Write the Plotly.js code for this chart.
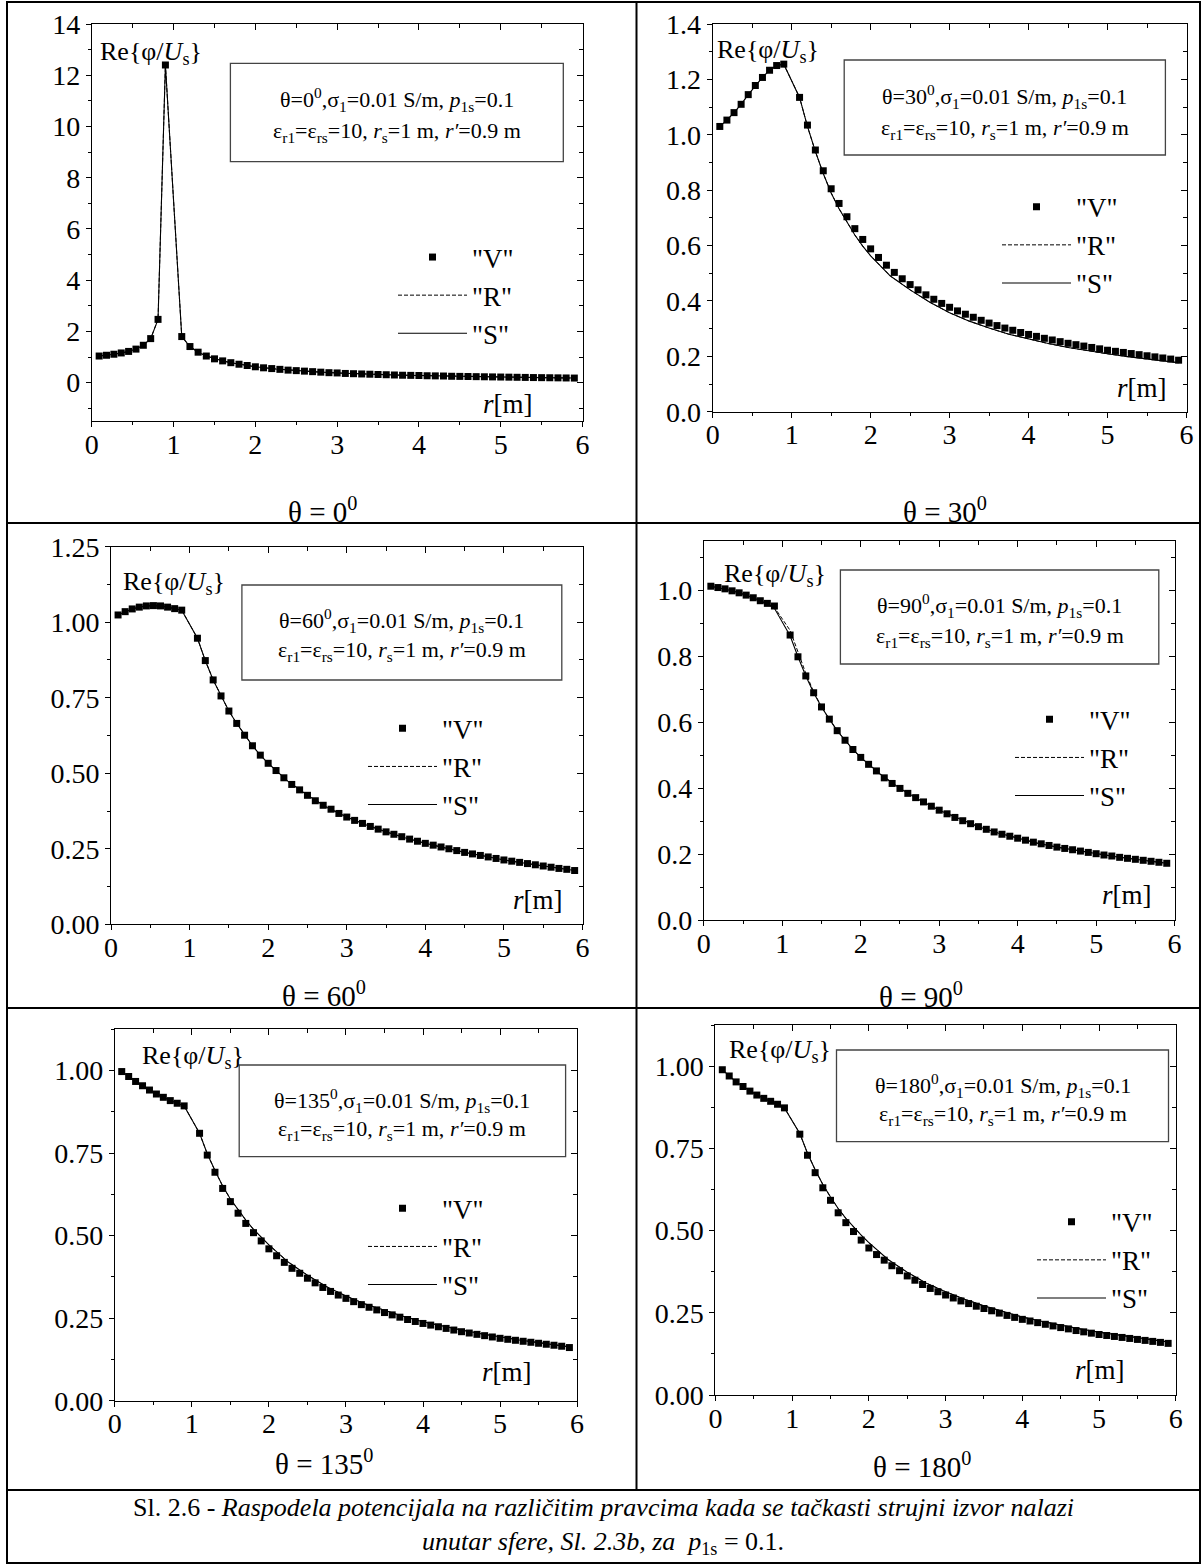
<!DOCTYPE html>
<html><head><meta charset="utf-8">
<script src="https://cdn.plot.ly/plotly-3.0.1.min.js"></script>
<style>html,body{margin:0;padding:0;background:#fff;} #chart{width:1203px;height:1566px;}</style>
</head><body><div id="chart"></div>
<script>
const W = 1203, H = 1566;
const FONT = 'Liberation Serif';

// r grid of the "V" points (inside the sphere: steps of 0.09 up to r'=0.9, outside: 0.1 steps)
const rV = [0.09,0.18,0.27,0.36,0.45,0.54,0.63,0.72,0.81,0.9,
  1.1,1.2,1.3,1.4,1.5,1.6,1.7,1.8,1.9,2.0,
  2.1,2.2,2.3,2.4,2.5,2.6,2.7,2.8,2.9,3.0,
  3.1,3.2,3.3,3.4,3.5,3.6,3.7,3.8,3.9,4.0,
  4.1,4.2,4.3,4.4,4.5,4.6,4.7,4.8,4.9,5.0,
  5.1,5.2,5.3,5.4,5.5,5.6,5.7,5.8,5.9];
// r grid of the "R" and "S" curves
const rL = [0.09,0.18,0.27,0.36,0.45,0.54,0.63,0.72,0.81,0.9,
  1.1,1.2,1.3,1.4,1.5,1.6,1.7,1.8,1.9,2.0,
  2.25,2.5,2.75,3.0,3.25,3.5,3.75,4.0,4.25,4.5,4.75,5.0,5.25,5.5,5.75,5.9];

// theta = 0
const V_0 = [1.04,1.07,1.11,1.16,1.22,1.31,1.46,1.72,2.47,12.4,
  1.80,1.41,1.19,1.04,0.93,0.85,0.78,0.72,0.67,0.62,
  0.58,0.55,0.52,0.49,0.47,0.45,0.43,0.41,0.39,0.38,
  0.36,0.35,0.34,0.33,0.32,0.31,0.30,0.29,0.285,0.28,
  0.27,0.265,0.26,0.25,0.245,0.24,0.235,0.23,0.225,0.22,
  0.215,0.21,0.205,0.20,0.196,0.192,0.188,0.184,0.18];
const S_0 = [1.04,1.07,1.11,1.16,1.22,1.31,1.46,1.72,2.47,12.4,
  1.80,1.41,1.19,1.04,0.93,0.85,0.78,0.72,0.67,0.62,
  0.535,0.47,0.42,0.38,0.345,0.32,0.295,0.28,0.262,0.245,0.232,0.22,0.207,0.196,0.186,0.18];
const R_0 = [1.04,1.07,1.11,1.16,1.22,1.31,1.46,1.72,2.47,12.4,
  1.80,1.41,1.19,1.04,0.93,0.85,0.78,0.72,0.67,0.62,
  0.535,0.47,0.42,0.38,0.345,0.32,0.295,0.28,0.262,0.245,0.232,0.22,0.207,0.196,0.186,0.18];

// theta = 30
const V_30 = [1.03,1.053,1.08,1.11,1.145,1.178,1.207,1.233,1.25,1.255,
  1.135,1.035,0.945,0.87,0.805,0.752,0.704,0.661,0.622,0.588,
  0.557,0.529,0.503,0.480,0.459,0.440,0.422,0.406,0.391,0.377,
  0.364,0.352,0.341,0.330,0.320,0.311,0.302,0.294,0.286,0.279,
  0.272,0.265,0.259,0.253,0.247,0.242,0.237,0.232,0.227,0.222,
  0.218,0.214,0.210,0.206,0.202,0.198,0.194,0.190,0.186];
const S_30 = [1.03,1.053,1.08,1.11,1.145,1.178,1.207,1.233,1.25,1.255,
  1.135,1.03,0.94,0.86,0.79,0.733,0.683,0.638,0.598,0.563,
  0.49,0.44,0.395,0.357,0.327,0.302,0.28,0.262,0.246,0.232,0.22,0.209,0.199,0.19,0.182,0.177];
const R_30 = [1.03,1.053,1.08,1.11,1.145,1.178,1.207,1.233,1.25,1.255,
  1.135,1.03,0.94,0.86,0.79,0.733,0.683,0.638,0.598,0.563,
  0.49,0.44,0.395,0.357,0.327,0.302,0.28,0.262,0.246,0.232,0.22,0.209,0.199,0.19,0.182,0.177];

// theta = 60
const V_60 = [1.024,1.035,1.044,1.05,1.054,1.055,1.054,1.05,1.045,1.04,
  0.947,0.873,0.809,0.756,0.706,0.665,0.626,0.591,0.560,0.533,
  0.509,0.485,0.463,0.445,0.427,0.409,0.394,0.381,0.367,0.355,
  0.344,0.334,0.324,0.315,0.306,0.298,0.290,0.282,0.275,0.268,
  0.262,0.256,0.250,0.244,0.238,0.233,0.228,0.223,0.218,0.213,
  0.209,0.205,0.201,0.197,0.193,0.189,0.185,0.182,0.178];
const S_60 = [1.024,1.035,1.044,1.05,1.054,1.055,1.054,1.05,1.045,1.04,
  0.947,0.873,0.809,0.756,0.706,0.665,0.626,0.591,0.560,0.533,
  0.474,0.427,0.387,0.355,0.329,0.306,0.286,0.268,0.253,0.238,0.226,0.213,0.203,0.193,0.184,0.178];
const R_60 = [1.024,1.035,1.044,1.05,1.054,1.055,1.054,1.05,1.045,1.04,
  0.947,0.873,0.809,0.756,0.706,0.665,0.626,0.591,0.560,0.533,
  0.474,0.427,0.387,0.355,0.329,0.306,0.286,0.268,0.253,0.238,0.226,0.213,0.203,0.193,0.184,0.178];

// theta = 90
const V_90 = [1.012,1.008,1.004,0.998,0.992,0.985,0.977,0.968,0.960,0.952,
  0.864,0.798,0.740,0.689,0.646,0.609,0.574,0.545,0.517,0.493,
  0.472,0.452,0.431,0.414,0.399,0.384,0.371,0.358,0.345,0.333,
  0.322,0.311,0.301,0.292,0.283,0.275,0.267,0.260,0.254,0.248,
  0.242,0.236,0.231,0.226,0.221,0.217,0.213,0.209,0.205,0.201,
  0.197,0.194,0.190,0.187,0.184,0.181,0.178,0.175,0.172];
const S_90 = [1.012,1.008,1.004,0.998,0.992,0.985,0.977,0.968,0.958,0.945,
  0.862,0.798,0.740,0.689,0.646,0.609,0.574,0.545,0.517,0.493,
  0.442,0.399,0.364,0.333,0.307,0.283,0.264,0.248,0.233,0.221,0.211,0.201,0.192,0.184,0.177,0.172];
const R_90 = [1.012,1.008,1.004,0.998,0.992,0.985,0.977,0.968,0.958,0.948,
  0.878,0.810,0.748,0.692,0.646,0.609,0.574,0.545,0.517,0.493,
  0.442,0.399,0.364,0.333,0.307,0.283,0.264,0.248,0.233,0.221,0.211,0.201,0.192,0.184,0.177,0.172];

// theta = 135
const V_135 = [0.997,0.982,0.967,0.954,0.941,0.929,0.919,0.909,0.901,0.893,
  0.810,0.744,0.692,0.643,0.603,0.568,0.537,0.509,0.484,0.460,
  0.439,0.419,0.401,0.386,0.371,0.357,0.343,0.331,0.320,0.310,
  0.300,0.291,0.283,0.275,0.267,0.260,0.253,0.246,0.240,0.234,
  0.229,0.224,0.219,0.214,0.209,0.205,0.201,0.197,0.193,0.189,
  0.186,0.183,0.180,0.177,0.174,0.171,0.168,0.165,0.161];
const S_135 = [0.997,0.982,0.967,0.954,0.941,0.929,0.919,0.909,0.901,0.893,
  0.81,0.748,0.697,0.650,0.611,0.577,0.547,0.519,0.495,0.472,
  0.42,0.38,0.345,0.317,0.293,0.273,0.255,0.239,0.226,0.214,0.203,0.193,0.184,0.176,0.168,0.163];
const R_135 = [0.997,0.982,0.967,0.954,0.941,0.929,0.919,0.909,0.901,0.893,
  0.81,0.748,0.697,0.650,0.611,0.577,0.547,0.519,0.495,0.472,
  0.42,0.38,0.345,0.317,0.293,0.273,0.255,0.239,0.226,0.214,0.203,0.193,0.184,0.176,0.168,0.163];

// theta = 180
const V_180 = [0.989,0.970,0.952,0.938,0.924,0.912,0.902,0.893,0.884,0.873,
  0.793,0.729,0.676,0.630,0.592,0.554,0.524,0.497,0.471,0.447,
  0.427,0.410,0.393,0.378,0.362,0.349,0.336,0.324,0.314,0.304,
  0.295,0.286,0.278,0.270,0.263,0.256,0.249,0.242,0.236,0.230,
  0.225,0.220,0.215,0.210,0.205,0.201,0.196,0.192,0.188,0.184,
  0.181,0.178,0.175,0.172,0.169,0.166,0.163,0.160,0.157];
const S_180 = [0.989,0.970,0.952,0.938,0.924,0.912,0.902,0.893,0.884,0.873,
  0.795,0.735,0.685,0.640,0.602,0.567,0.537,0.510,0.486,0.463,
  0.412,0.373,0.340,0.314,0.291,0.271,0.253,0.237,0.224,0.212,0.201,0.191,0.182,0.174,0.166,0.161];
const R_180 = [0.989,0.970,0.952,0.938,0.924,0.912,0.902,0.893,0.884,0.873,
  0.795,0.735,0.685,0.640,0.602,0.567,0.537,0.510,0.486,0.463,
  0.412,0.373,0.340,0.314,0.291,0.271,0.253,0.237,0.224,0.212,0.201,0.191,0.182,0.174,0.166,0.161];

const thetaLabels = ['0','30','60','90','135','180'];
const seriesNames = ['"V"','"R"','"S"'];

// layout of the six panels (pixel geometry)
const panels = [
  {V:V_0,   R:R_0,   S:S_0,   px:[91.8,582.5],  py:[24,421.1],    yr:[-1.5,14],  dt:2,    mn:1,     fmt:'d',
   box:[230.4,563.3,63.3,161.7],   ln:[99.3,131.7],  re:[97.6,53],    rm:[481.4,404],  ti:[322.6,510],  lg:[393,256]},
  {V:V_30,  R:R_30,  S:S_30,  px:[712.7,1186.5],py:[24,411.7],    yr:[0,1.4],    dt:0.2,  mn:0.1,   fmt:'.1f',
   box:[844.2,1165.4,60,155],      ln:[96.7,129],    re:[715.4,51],   rm:[1115.4,388.3],ti:[945,510],   lg:[997,205.7]},
  {V:V_60,  R:R_60,  S:S_60,  px:[111,582.5],   py:[546.7,924.3], yr:[0,1.25],   dt:0.25, mn:0.125, fmt:'.2f',
   box:[241.9,561.8,585,680],      ln:[620.7,650.7], re:[120.5,583],  rm:[511,900],    ti:[324,994],    lg:[363,727.3]},
  {V:V_90,  R:R_90,  S:S_90,  px:[703.8,1174.6],py:[540.7,920],   yr:[0,1.15],   dt:0.2,  mn:0.1,   fmt:'.1f',
   box:[840.4,1158.8,570,664],     ln:[606,636.7],   re:[722.3,575],  rm:[1100,895],   ti:[921,995],    lg:[1010,718.3]},
  {V:V_135, R:R_135, S:S_135, px:[114.8,577.1], py:[1029.3,1400.7],yr:[0,1.125], dt:0.25, mn:0.125, fmt:'.2f',
   box:[239.2,565.6,1065,1156.7],  ln:[1100,1130],   re:[139.7,1057], rm:[480,1371.7], ti:[323.5,1462], lg:[363,1207.3]},
  {V:V_180, R:R_180, S:S_180, px:[715.4,1175.8],py:[1025,1395],   yr:[0,1.125],  dt:0.25, mn:0.125, fmt:'.2f',
   box:[836.5,1168.5,1050,1141.7], ln:[1085,1115],   re:[727,1051],   rm:[1073,1370],  ti:[922,1465],   lg:[1032,1220.7]}
];

const fx = p => p / W;
const fy = p => 1 - p / H;
const tfont = s => ({family: FONT, size: s, color: '#000'});

const data = [];
const layout = {
  width: W, height: H, margin: {l:0, r:0, t:0, b:0},
  paper_bgcolor: '#fff', plot_bgcolor: 'rgba(0,0,0,0)',
  font: tfont(26),
  showlegend: true, shapes: [], annotations: [], hovermode: false
};

panels.forEach((p, i) => {
  const n = i + 1, m = n + 6;
  const xa = n === 1 ? 'x' : 'x' + n, ya = n === 1 ? 'y' : 'y' + n;
  const xo = 'x' + m, yo = 'y' + m;
  const lgName = n === 1 ? 'legend' : 'legend' + n;

  data.push({type:'scatter', mode:'markers', x:rV, y:p.V, xaxis:xa, yaxis:ya, name:seriesNames[0], legend:lgName,
    marker:{symbol:'square', size:7, color:'#000'}, cliponaxis:false});
  data.push({type:'scatter', mode:'lines', x:rL, y:p.R, xaxis:xa, yaxis:ya, name:seriesNames[1], legend:lgName,
    line:{color:'#000', width:1, dash:'4px,2px'}});
  data.push({type:'scatter', mode:'lines', x:rL, y:p.S, xaxis:xa, yaxis:ya, name:seriesNames[2], legend:lgName,
    line:{color:'#000', width:1.1}});
  data.push({type:'scatter', mode:'lines', x:[], y:[], xaxis:xo, yaxis:ya, showlegend:false, hoverinfo:'skip'});
  data.push({type:'scatter', mode:'lines', x:[], y:[], xaxis:xa, yaxis:yo, showlegend:false, hoverinfo:'skip'});

  const common = {showgrid:false, zeroline:false, showline:true, linecolor:'#000', linewidth:1,
    tickcolor:'#000', tickwidth:1, fixedrange:true};
  layout[n === 1 ? 'xaxis' : 'xaxis' + n] = Object.assign({}, common, {
    domain:[fx(p.px[0]), fx(p.px[1])], range:[0,6], anchor:ya, side:'bottom',
    ticks:'outside', ticklen:5, tick0:0, dtick:1, tickfont:tfont(28), ticklabelstandoff:-7,
    minor:{ticks:'outside', ticklen:3, tick0:0, dtick:0.5, tickcolor:'#000', showgrid:false}});
  layout['xaxis' + m] = Object.assign({}, common, {
    overlaying:xa, range:[0,6], anchor:ya, side:'top', showticklabels:false,
    ticks:'inside', ticklen:6, tick0:0, dtick:1,
    minor:{ticks:'inside', ticklen:4, tick0:0, dtick:0.5, tickcolor:'#000', showgrid:false}});
  layout[n === 1 ? 'yaxis' : 'yaxis' + n] = Object.assign({}, common, {
    domain:[fy(p.py[1]), fy(p.py[0])], range:p.yr, anchor:xa, side:'left',
    ticks:'outside', ticklen:5, tick0:0, dtick:p.dt, tickformat:p.fmt, tickfont:tfont(28),
    minor:{ticks:'outside', ticklen:3, tick0:0, dtick:p.mn, tickcolor:'#000', showgrid:false}});
  layout['yaxis' + m] = Object.assign({}, common, {
    overlaying:ya, range:p.yr, anchor:xa, side:'right', showticklabels:false,
    ticks:'inside', ticklen:6, tick0:0, dtick:p.dt,
    minor:{ticks:'inside', ticklen:4, tick0:0, dtick:p.mn, tickcolor:'#000', showgrid:false}});

  layout[lgName] = {x:fx(p.lg[0]), y:fy(p.lg[1] - 23), xanchor:'left', yanchor:'top',
    bgcolor:'rgba(0,0,0,0)', borderwidth:0, font:tfont(27), itemwidth:69,
    traceorder:'normal', tracegroupgap:0, itemclick:false, itemdoubleclick:false};

  layout.shapes.push({type:'rect', xref:'paper', yref:'paper',
    x0:fx(p.box[0]), x1:fx(p.box[1]), y0:fy(p.box[3]), y1:fy(p.box[2]),
    line:{color:'#444', width:1.3}, fillcolor:'rgba(0,0,0,0)'});

  const th = thetaLabels[i];
  const cx = (p.box[0] + p.box[1]) / 2;
  const A = (text, x, y, xanchor, size) => layout.annotations.push({text, x:fx(x), y:fy(y),
    xref:'paper', yref:'paper', xanchor, yanchor:'middle', showarrow:false, font:tfont(size)});
  A('θ=' + th + '<sup>0</sup>,σ<sub>1</sub>=0.01 S/m, <i>p</i><sub>1s</sub>=0.1', cx, p.ln[0], 'center', 22);
  A('ε<sub>r1</sub>=ε<sub>rs</sub>=10, <i>r</i><sub>s</sub>=1 m, <i>r′</i>=0.9 m', cx, p.ln[1], 'center', 22);
  A('Re{φ/<i>U</i><sub>s</sub>}', p.re[0], p.re[1], 'left', 26);
  A('<i>r</i>[m]', p.rm[0], p.rm[1], 'left', 27);
  A('θ = ' + th + '<sup>0</sup>', p.ti[0], p.ti[1], 'center', 29);
});

// table frame
const BL = 7, BR = 1200, BT = 2, BB = 1563, VX = 636.5, H1 = 523, H2 = 1008, H3 = 1490;
const seg = (x0, y0, x1, y1) => layout.shapes.push({type:'line', xref:'paper', yref:'paper',
  x0:fx(x0), x1:fx(x1), y0:fy(y0), y1:fy(y1), line:{color:'#000', width:2}});
layout.shapes.push({type:'rect', xref:'paper', yref:'paper', x0:fx(BL), x1:fx(BR), y0:fy(BB), y1:fy(BT),
  line:{color:'#000', width:2}, fillcolor:'rgba(0,0,0,0)'});
seg(VX, BT, VX, H3);
seg(BL, H1, BR, H1);
seg(BL, H2, BR, H2);
seg(BL, H3, BR, H3);

// caption
layout.annotations.push({text:'Sl. 2.6 - <i>Raspodela potencijala na različitim pravcima kada se tačkasti strujni izvor nalazi</i>',
  x:fx(603), y:fy(1507), xref:'paper', yref:'paper', xanchor:'center', yanchor:'middle', showarrow:false, font:tfont(26)});
layout.annotations.push({text:'<i>unutar sfere, Sl. 2.3b, za  p</i><sub>1s</sub> = 0.1.',
  x:fx(603), y:fy(1543), xref:'paper', yref:'paper', xanchor:'center', yanchor:'middle', showarrow:false, font:tfont(26)});

Plotly.newPlot('chart', data, layout, {staticPlot:true, displayModeBar:false});
</script>
</body></html>
